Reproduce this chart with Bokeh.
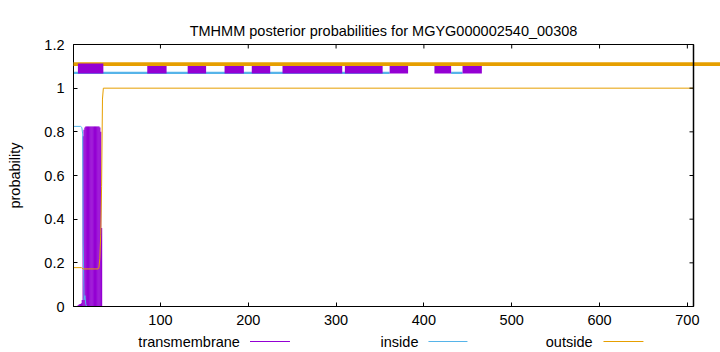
from bokeh.plotting import figure
from bokeh.models import Range1d, FixedTicker
from bokeh.core.properties import value
from bokeh.embed import file_html
from bokeh.resources import INLINE

# ---------------- data ----------------
seq_len = 707
title_text = "TMHMM posterior probabilities for MGYG000002540_00308"

xticks = [100, 200, 300, 400, 500, 600, 700]
yticks = [0, 0.2, 0.4, 0.6, 0.8, 1, 1.2]
ytick_labels = ["0", "0.2", "0.4", "0.6", "0.8", "1", "1.2"]

# posterior probability curves (breakpoints)
inside_x = [1, 9, 10.5, 11.5, 12, 13, 14, 15, 16, 707]
inside_y = [0.825, 0.825, 0.82, 0.79, 0.30, 0.03, 0.05, 0.01, 0.0, 0.0]
outside_x = [1, 10, 12, 29, 30, 31, 32, 33, 34, 35, 707]
outside_y = [0.178, 0.178, 0.172, 0.172, 0.18, 0.22, 0.33, 0.55, 0.95, 1.0, 1.0]
tm_pos = list(range(6, 34))
tm_val = [0.005, 0.008, 0.01, 0.012, 0.015, 0.03,
          0.78, 0.81, 0.82,
          0.825, 0.825, 0.825, 0.825, 0.825, 0.825, 0.825, 0.825,
          0.825, 0.825, 0.825, 0.825, 0.825, 0.825, 0.825, 0.825,
          0.82, 0.80, 0.36]

# predicted topology segments (drawn above the plot)
tm_seg_start = [6, 85, 131, 173, 204, 239, 310, 361, 412, 444]
tm_seg_end = [35, 107, 152, 195, 225, 307, 353, 382, 431, 466]
in_seg_start = [1, 431]
in_seg_end = [361, 444]
out_seg_start = [1]
out_seg_end = [745]
tm_level, in_level, out_level = 1.09, 1.07, 1.11

legend_labels = ["transmembrane", "inside", "outside"]

# ---------------- styles ----------------
C_TM = "#9400d3"
C_IN = "#56b4e9"
C_OUT = "#e69f00"
FONT = "Liberation Sans"
FS = "14.5px"

p = figure(width=720, height=352, x_range=Range1d(1, seq_len), y_range=Range1d(0, 1.2),
           output_backend="svg", toolbar_location=None,
           min_border_left=73, min_border_right=27, min_border_top=44, min_border_bottom=46)
p.grid.visible = False
p.background_fill_color = "white"
p.border_fill_color = "white"
p.outline_line_color = "black"
p.outline_line_width = 1
p.outline_line_alpha = 1

p.title.text = title_text
p.title.align = "center"
p.title.text_font = FONT
p.title.text_font_size = FS
p.title.text_font_style = "normal"
p.title.text_color = "black"
p.title.standoff = 12

for ax in (p.xaxis[0], p.yaxis[0]):
    ax.major_tick_in = 4
    ax.major_tick_out = 0
    ax.minor_tick_in = 0
    ax.minor_tick_out = 0
    ax.axis_line_color = "black"
    ax.major_tick_line_color = "black"
    ax.major_label_text_font = FONT
    ax.major_label_text_font_size = FS
    ax.major_label_text_color = "black"

p.xaxis.ticker = FixedTicker(ticks=xticks)
p.xaxis.major_label_standoff = 8
p.yaxis.ticker = FixedTicker(ticks=yticks)
p.yaxis.major_label_overrides = dict(zip(yticks, ytick_labels))
p.yaxis.major_label_standoff = 9
p.yaxis.axis_label = "probability"
p.yaxis.axis_label_text_font = FONT
p.yaxis.axis_label_text_font_size = FS
p.yaxis.axis_label_text_font_style = "normal"
p.yaxis.axis_label_text_color = "black"
p.yaxis.axis_label_standoff = 18

# posterior curves
p.segment(x0=tm_pos, y0=[0] * len(tm_pos), x1=tm_pos, y1=tm_val, line_color=C_TM, line_width=1.2)
p.line(inside_x, inside_y, line_color=C_IN, line_width=1)
p.line(outside_x, outside_y, line_color=C_OUT, line_width=1)

# topology bars
p.segment(x0=in_seg_start, y0=[in_level] * len(in_seg_start), x1=in_seg_end,
          y1=[in_level] * len(in_seg_end), line_color=C_IN, line_width=2.3, line_cap="butt")
p.segment(x0=tm_seg_start[1:], y0=[tm_level] * (len(tm_seg_start) - 1), x1=tm_seg_end[1:],
          y1=[tm_level] * (len(tm_seg_end) - 1), line_color=C_TM, line_width=10, line_cap="butt")
p.segment(x0=out_seg_start, y0=[out_level], x1=out_seg_end, y1=[out_level],
          line_color=C_OUT, line_width=3.7, line_cap="butt", level="overlay")
p.segment(x0=tm_seg_start[:1], y0=[tm_level], x1=tm_seg_end[:1], y1=[tm_level],
          line_color=C_TM, line_width=10, line_cap="butt", level="overlay")

# frame decorations: right border over the overhanging bar, mirrored ticks
px_per_x = 620 / (seq_len - 1)
px_per_y = 262 / 1.2
p.segment(x0=[seq_len], y0=[0], x1=[seq_len], y1=[1.2], line_color="black", line_width=1.5,
          level="overlay")
p.segment(x0=xticks, y0=[1.2] * len(xticks), x1=xticks, y1=[1.2 - 4 / px_per_y] * len(xticks),
          line_color="black", line_width=1, level="overlay")
p.segment(x0=[seq_len] * len(yticks), y0=yticks, x1=[seq_len - 4 / px_per_x] * len(yticks),
          y1=yticks, line_color="black", line_width=1, level="overlay")

# legend (gnuplot style: label then sample line)
leg_y = -35 / px_per_y
leg_text_x = [190.5, 393.8, 592.0]
leg_line_x0 = [202.0, 405.2, 604.5]
leg_line_x1 = [247.5, 449.6, 650.0]
p.text(x=leg_text_x, y=[leg_y] * 3, text=legend_labels, text_align="right",
       text_baseline="middle", text_font=value(FONT), text_font_size=value(FS),
       text_color="black", level="overlay")
p.segment(x0=leg_line_x0, y0=[leg_y] * 3, x1=leg_line_x1, y1=[leg_y] * 3,
          line_color=[C_TM, C_IN, C_OUT], line_width=1, level="overlay")

open("out.html", "w").write(file_html(p, INLINE))
